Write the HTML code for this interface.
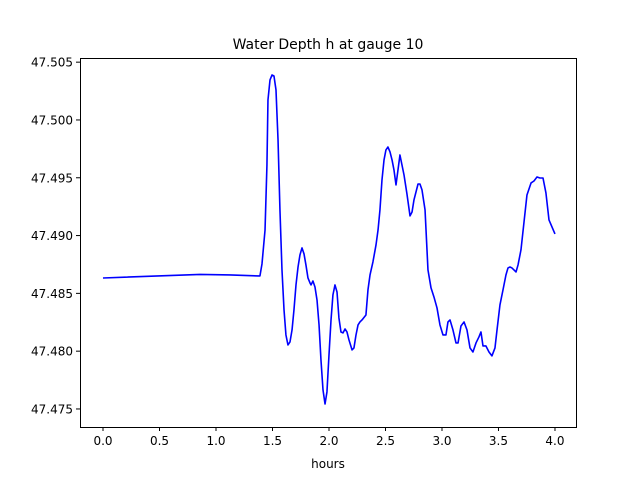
<!DOCTYPE html>
<html><head><meta charset="utf-8"><style>
html,body{margin:0;padding:0;background:#fff;}
svg{display:block;font-family:"DejaVu Sans","Liberation Sans",sans-serif;}
</style></head><body>
<svg id="chart" width="640" height="480">
<rect width="640" height="480" fill="#fff"/>
<text x="328" y="49" text-anchor="middle" font-size="14">Water Depth h at gauge 10</text>
<g id="plot"></g>
<rect x="80.5" y="58.5" width="496" height="369" fill="none" stroke="#000" stroke-width="1"/>
<text x="328" y="468" text-anchor="middle" font-size="12">hours</text>
</svg>
<script>
const hours=[0,0.858,1.124,1.372,1.389,1.407,1.434,1.451,1.460,1.478,1.496,1.513,1.531,1.549,1.566,1.584,1.602,1.619,1.637,1.655,1.673,1.690,1.708,1.726,1.743,1.761,1.779,1.796,1.814,1.832,1.841,1.858,1.876,1.894,1.912,1.929,1.947,1.965,1.982,2.000,2.018,2.035,2.053,2.071,2.088,2.106,2.124,2.142,2.159,2.177,2.204,2.221,2.239,2.257,2.274,2.292,2.327,2.345,2.363,2.389,2.416,2.434,2.451,2.469,2.487,2.504,2.522,2.540,2.558,2.575,2.593,2.628,2.664,2.690,2.717,2.735,2.752,2.788,2.805,2.823,2.850,2.876,2.903,2.929,2.956,2.982,3.009,3.035,3.053,3.071,3.097,3.124,3.142,3.168,3.195,3.221,3.248,3.274,3.301,3.327,3.345,3.363,3.389,3.416,3.442,3.469,3.487,3.513,3.540,3.566,3.584,3.602,3.619,3.655,3.673,3.699,3.726,3.752,3.788,3.814,3.841,3.867,3.894,3.920,3.947,4.0];
const depth=[47.48633,47.48664,47.48659,47.48651,47.48651,47.48754,47.49048,47.49611,47.50173,47.50346,47.50389,47.50381,47.50260,47.49827,47.49222,47.48703,47.48357,47.48140,47.48054,47.48080,47.48184,47.48357,47.48573,47.48728,47.48832,47.48893,47.48841,47.48746,47.48633,47.48590,47.48573,47.48607,47.48555,47.48443,47.48227,47.47924,47.47665,47.47543,47.47647,47.47967,47.48270,47.48487,47.48573,47.48512,47.48287,47.48166,47.48158,47.48192,47.48166,47.48097,47.48011,47.48028,47.48140,47.48227,47.48253,47.48270,47.48313,47.48530,47.48659,47.48772,47.48919,47.49048,47.49222,47.49481,47.49654,47.49741,47.49766,47.49723,47.49654,47.49568,47.49438,47.49697,47.49524,47.49360,47.49170,47.49204,47.49308,47.49446,47.49446,47.49395,47.49222,47.48703,47.48547,47.48469,47.48374,47.48227,47.48140,47.48140,47.48253,47.48270,47.48184,47.48071,47.48071,47.48218,47.48253,47.48184,47.48028,47.47993,47.48071,47.48123,47.48166,47.48045,47.48045,47.47993,47.47959,47.48028,47.48184,47.48400,47.48530,47.48659,47.48720,47.48728,47.48720,47.48685,47.48746,47.48876,47.49118,47.49351,47.49455,47.49472,47.49507,47.49498,47.49498,47.49369,47.49135,47.49014];
const xTicks=[0,0.5,1,1.5,2,2.5,3,3.5,4];
const xTickLabels=["0.0","0.5","1.0","1.5","2.0","2.5","3.0","3.5","4.0"];
const yTicks=[47.475,47.48,47.485,47.49,47.495,47.5,47.505];
const yTickLabels=["47.475","47.480","47.485","47.490","47.495","47.500","47.505"];
const L=80,R=576,T=58,B=427,xmin=-0.2035,xmax=4.186,ymin=47.47344,ymax=47.50536;
const sx=v=>L+(v-xmin)/(xmax-xmin)*(R-L);
const sy=v=>B-(v-ymin)/(ymax-ymin)*(B-T);
const NS="http://www.w3.org/2000/svg";
const svg=document.getElementById('chart');
const plot=document.getElementById('plot');
function mk(tag,attrs,parent){const e=document.createElementNS(NS,tag);for(const k in attrs)e.setAttribute(k,attrs[k]);parent.appendChild(e);return e;}
xTicks.forEach((t,i)=>{
 const x=sx(t);
 const ln=mk('line',{x1:x,x2:x,y1:B,y2:B+4,stroke:'#000'},svg);
 
 
 const tx=mk('text',{x:x,y:B+18,'text-anchor':'middle','font-size':'12'},svg);
 tx.textContent=xTickLabels[i];
 
 
});
yTicks.forEach((t,i)=>{
 const y=sy(t);
 const ln=mk('line',{x1:L-4,x2:L,y1:y,y2:y,stroke:'#000'},svg);
 
 
 const tx=mk('text',{x:L-7,y:y+4.5,'text-anchor':'end','font-size':'12'},svg);
 tx.textContent=yTickLabels[i];
 
 
});
const pts=hours.map((h,i)=>sx(h).toFixed(2)+','+sy(depth[i]).toFixed(2)).join(' ');
const pl=mk('polyline',{points:pts,fill:'none',stroke:'#0000ff','stroke-width':'1.6','stroke-linejoin':'round'},plot);


</script>
</body></html>
